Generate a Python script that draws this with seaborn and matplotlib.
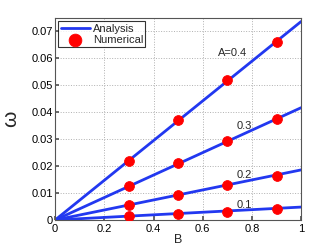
import pandas as pd
import numpy as np
import matplotlib
matplotlib.use('Agg')
import matplotlib.pyplot as plt
import seaborn as sns

sns.set_theme(style="ticks")
plt.rcParams['font.family'] = ['Liberation Sans', 'DejaVu Sans']

# ── data ───────────────────────────────────────────────────────────
amps = [0.4, 0.3, 0.2, 0.1]
line_b = [0.0, 1.0]
line_w = {0.4: [0.0, 0.0737], 0.3: [0.0, 0.0417],
          0.2: [0.0, 0.0186], 0.1: [0.0, 0.0048]}
pts_b = [0.3, 0.5, 0.7, 0.9]
pts_w = {0.4: [0.0220, 0.0370, 0.0520, 0.0660],
         0.3: [0.0125, 0.0210, 0.0292, 0.0375],
         0.2: [0.0055, 0.0092, 0.0130, 0.0165],
         0.1: [0.0013, 0.0023, 0.0030, 0.0040]}
labels = ['A=0.4', '0.3', '0.2', '0.1']
label_pos = [(0.72, 0.0620), (0.77, 0.0348), (0.77, 0.0168), (0.77, 0.0057)]

lines = pd.DataFrame([(a, b, w) for a in amps for b, w in zip(line_b, line_w[a])],
                     columns=['A', 'B', 'w'])
pts = pd.DataFrame([(a, b, w) for a in amps for b, w in zip(pts_b, pts_w[a])],
                   columns=['A', 'B', 'w'])

fig = plt.figure(figsize=(3.32, 2.5), dpi=100)
ax = fig.add_axes([0.166, 0.12, 0.741, 0.808])

for i, a in enumerate(amps):
    sub = lines[lines['A'] == a]
    sns.lineplot(data=sub, x='B', y='w', ax=ax, color='#2238f0', linewidth=2,
                 label='Analysis' if i == 0 else None, legend=False)
for i, a in enumerate(amps):
    sub = pts[pts['A'] == a]
    sns.scatterplot(data=sub, x='B', y='w', ax=ax, color='red', s=50,
                    edgecolor='red', zorder=3,
                    label='Numerical' if i == 0 else None, legend=False)

for txt, (x, y) in zip(labels, label_pos):
    ax.text(x, y, txt, fontsize=8, ha='center', va='center')

ax.set_xlim(0, 1)
ax.set_ylim(0, 0.075)
ax.set_xticks([0, 0.2, 0.4, 0.6, 0.8, 1])
ax.set_xticklabels(['0', '0.2', '0.4', '0.6', '0.8', '1'])
ax.set_yticks([0, 0.01, 0.02, 0.03, 0.04, 0.05, 0.06, 0.07])
ax.set_yticklabels(['0', '0.01', '0.02', '0.03', '0.04', '0.05', '0.06', '0.07'])
ax.tick_params(labelsize=8, direction='in', length=3, colors='#555555',
               labelcolor='black')
ax.tick_params(axis='y', pad=1.5)
ax.tick_params(axis='x', pad=3)
ax.grid(True, linestyle=':', color='#b0b0b0', linewidth=0.7)
for s in ax.spines.values():
    s.set_color('#555555')
    s.set_linewidth(0.8)
ax.set_xlabel('B', fontsize=9, labelpad=0)
ax.set_ylabel('ω', fontsize=15, labelpad=8)

h, l = ax.get_legend_handles_labels()
leg = ax.legend(h, l, loc='upper left', fontsize=8, frameon=True, fancybox=False,
                borderpad=0.2, handlelength=2.6, handletextpad=0.3,
                labelspacing=0.15, borderaxespad=0.3, markerscale=1.3)
leg.get_frame().set_edgecolor('black')
leg.get_frame().set_linewidth(0.8)

fig.savefig('out.png', dpi=100)
